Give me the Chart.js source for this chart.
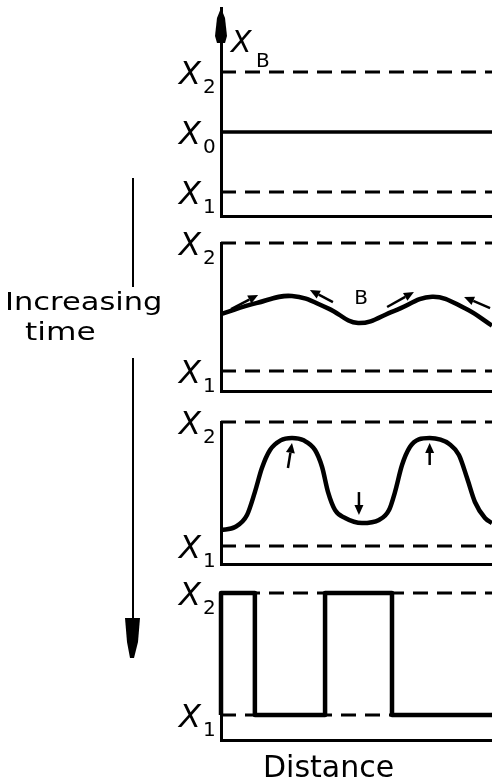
<!DOCTYPE html>
<html>
<head>
<meta charset="utf-8">
<script src="https://cdn.jsdelivr.net/npm/chart.js@4"></script>
<style>
  html, body { margin: 0; padding: 0; background: #fff; }
  #fig { position: relative; width: 492px; height: 784px; overflow: hidden; font-family: "DejaVu Sans", sans-serif; color: #000; }
  #fig canvas { position: absolute; left: 0; }
  .note { position: absolute; white-space: nowrap; line-height: 1; transform-origin: left top; }
</style>
</head>
<body>
<div id="fig">
  <canvas id="stage1" width="492" height="222" style="top:0px"></canvas>
  <canvas id="stage2" width="492" height="175" style="top:222px"></canvas>
  <canvas id="stage3" width="492" height="173" style="top:397px"></canvas>
  <canvas id="stage4" width="492" height="214" style="top:570px"></canvas>

  <svg width="492" height="784" style="position:absolute;left:0;top:0">
    <line x1="133" y1="178" x2="133" y2="287" stroke="#000" stroke-width="2"/>
    <line x1="133" y1="358" x2="133" y2="622" stroke="#000" stroke-width="2"/>
    <path d="M125 618 L140 618 L138 642 L134 658 L130 658 L127 642 Z" fill="#000"/>
  </svg>
  <div class="note" style="left:5px;top:289px;font-size:25px;transform:scaleX(1.22)">Increasing</div>
  <div class="note" style="left:25px;top:319px;font-size:25px;transform:scaleX(1.25)">time</div>
  <div class="note" style="left:263px;top:752px;font-size:30px">Distance</div>
</div>

<script>
// distance runs 0..100 across every panel; X1 = 1, X2 = 2 on the concentration axis
const levels1 = [2, 1.5, 1];
const levelNames1 = ["2", "0", "1"];
const levels = [2, 1];
const levelNames = ["2", "1"];

// stage 2: small wavy fluctuation
const wave2X = [0, 13, 26.2, 39.5, 50.6, 64, 77.9, 90, 100];
const wave2Y = [1.445, 1.530, 1.586, 1.490, 1.375, 1.470, 1.580, 1.490, 1.355];

// stage 3: grown fluctuation
const wave3X = [0, 5.2, 9.6, 12.5, 15.1, 18.1, 22.0, 26.2, 30.5, 34.7, 37.3, 39.5, 42.1, 45.8, 52.0, 58.3, 62.0, 64.2, 66.8, 69.7, 73.0, 77.0, 81.0, 84.1, 87.8, 90.8, 93.7, 97.4, 100];
const wave3Y = [1.129, 1.153, 1.250, 1.435, 1.629, 1.774, 1.852, 1.871, 1.852, 1.774, 1.637, 1.435, 1.290, 1.226, 1.185, 1.210, 1.290, 1.435, 1.653, 1.798, 1.860, 1.871, 1.858, 1.825, 1.734, 1.548, 1.355, 1.226, 1.185];

// stage 4: square profile, value holds until the next edge
const edges4 = [0, 12.5, 38.4, 63.1, 89.3, 100];
const steps4 = [1, 2, 1, 2, 1, 1];

// diffusion arrows [x0, y0, x1, y1]
const arrows2 = [[3.7, 1.484, 13.7, 1.594], [41.3, 1.539, 32.8, 1.633], [61.3, 1.5, 71.2, 1.617], [99.3, 1.492, 89.7, 1.578]];
const arrows3 = [[24.7, 1.629, 26.2, 1.831], [50.9, 1.435, 50.9, 1.25], [77.0, 1.653, 77.0, 1.831]];
const bLabel2 = [51.7, 1.5625];

const FONT = '"DejaVu Sans", sans-serif';

function zip(xs, ys) {
    return xs.map((x, i) => ({ x: x, y: ys[i] }));
}

function levelSets(vals, names) {
    return vals.map((v, i) => ({
        data: [{ x: 0, y: v }, { x: 100, y: v }],
        borderColor: "#000",
        borderWidth: names[i] === "0" ? 3.5 : 3,
        borderDash: names[i] === "0" ? [] : [15, 9],
        clip: 6,
        order: 1
    }));
}

function drawArrow(ctx, x0, y0, x1, y1) {
    const ang = Math.atan2(y1 - y0, x1 - x0);
    const len = 10, wid = 4.5;
    const bx = x1 - len * Math.cos(ang), by = y1 - len * Math.sin(ang);
    ctx.beginPath();
    ctx.moveTo(x0, y0);
    ctx.lineTo(bx, by);
    ctx.stroke();
    ctx.beginPath();
    ctx.moveTo(x1, y1);
    ctx.lineTo(bx - wid * Math.sin(ang), by + wid * Math.cos(ang));
    ctx.lineTo(bx + wid * Math.sin(ang), by - wid * Math.cos(ang));
    ctx.closePath();
    ctx.fill();
}

const panelDecor = {
    id: "panelDecor",
    afterDraw(chart, args, opts) {
        const ctx = chart.ctx;
        const xs = chart.scales.x, ys = chart.scales.y;
        const left = chart.chartArea.left;
        ctx.save();
        ctx.fillStyle = "#000";
        ctx.strokeStyle = "#000";
        ctx.textAlign = "left";
        ctx.textBaseline = "alphabetic";

        // X labels on the level lines
        (opts.levels || []).forEach((v, i) => {
            const py = ys.getPixelForValue(v);
            ctx.font = "italic 32px " + FONT;
            ctx.fillText("X", left - 42, py + 12);
            ctx.font = "20px " + FONT;
            ctx.fillText(opts.names[i], left - 18, py + 21);
        });

        // arrows along the profile
        ctx.lineWidth = 2.5;
        (opts.arrows || []).forEach(a => {
            drawArrow(ctx, xs.getPixelForValue(a[0]), ys.getPixelForValue(a[1]),
                xs.getPixelForValue(a[2]), ys.getPixelForValue(a[3]));
        });

        if (opts.bLabel) {
            ctx.font = "20px " + FONT;
            ctx.textAlign = "center";
            ctx.textBaseline = "middle";
            ctx.fillText("B", xs.getPixelForValue(opts.bLabel[0]), ys.getPixelForValue(opts.bLabel[1]));
        }

        // arrow head on the composition axis and its X_B title
        if (opts.axisArrow) {
            const top = chart.chartArea.top;
            ctx.beginPath();
            ctx.moveTo(left, top);
            ctx.lineTo(left + 4, top + 10);
            ctx.lineTo(left + 6, top + 28);
            ctx.lineTo(left + 4, top + 35);
            ctx.lineTo(left - 4, top + 35);
            ctx.lineTo(left - 6, top + 28);
            ctx.lineTo(left - 4, top + 10);
            ctx.closePath();
            ctx.fill();
            ctx.textAlign = "left";
            ctx.textBaseline = "alphabetic";
            ctx.font = "italic 30px " + FONT;
            ctx.fillText("X", left + 10, top + 44);
            ctx.font = "20px " + FONT;
            ctx.fillText("B", left + 35, top + 59);
        }
        ctx.restore();
    }
};

function makeStage(id, datasets, yMin, yMax, padding, decor) {
    const axisLine = { display: true, color: "#000", width: 3 };
    return new Chart(document.getElementById(id), {
        type: "line",
        data: { datasets: datasets },
        options: {
            responsive: false,
            animation: false,
            layout: { padding: padding },
            elements: { point: { radius: 0 }, line: { borderJoinStyle: "round" } },
            plugins: {
                legend: { display: false },
                tooltip: { enabled: false },
                panelDecor: decor
            },
            scales: {
                x: {
                    type: "linear", min: 0, max: 100,
                    ticks: { display: false },
                    grid: { display: false, drawTicks: false },
                    border: axisLine
                },
                y: {
                    type: "linear", min: yMin, max: yMax,
                    ticks: { display: false },
                    grid: { display: false, drawTicks: false },
                    border: axisLine
                }
            }
        },
        plugins: [panelDecor]
    });
}

const curveStyle = { borderColor: "#000", borderWidth: 4.5, clip: 6, order: 0 };

makeStage("stage1", levelSets(levels1, levelNames1), 0.8, 2.533,
    { left: 221, right: 0, top: 8, bottom: 6 },
    { levels: levels1, names: levelNames1, axisArrow: true });

makeStage("stage2",
    [Object.assign({ data: zip(wave2X, wave2Y), tension: 0.4 }, curveStyle)]
        .concat(levelSets(levels, levelNames)),
    0.844, 2, { left: 221, right: 0, top: 21, bottom: 6 },
    { levels: levels, names: levelNames, arrows: arrows2, bLabel: bLabel2 });

makeStage("stage3",
    [Object.assign({ data: zip(wave3X, wave3Y), cubicInterpolationMode: "monotone" }, curveStyle)]
        .concat(levelSets(levels, levelNames)),
    0.855, 2, { left: 221, right: 0, top: 25, bottom: 6 },
    { levels: levels, names: levelNames, arrows: arrows3 });

makeStage("stage4",
    [Object.assign({ data: zip(edges4, steps4), stepped: "after" }, curveStyle)]
        .concat(levelSets(levels, levelNames)),
    0.795, 2, { left: 221, right: 0, top: 23, bottom: 44 },
    { levels: levels, names: levelNames });
</script>
</body>
</html>
